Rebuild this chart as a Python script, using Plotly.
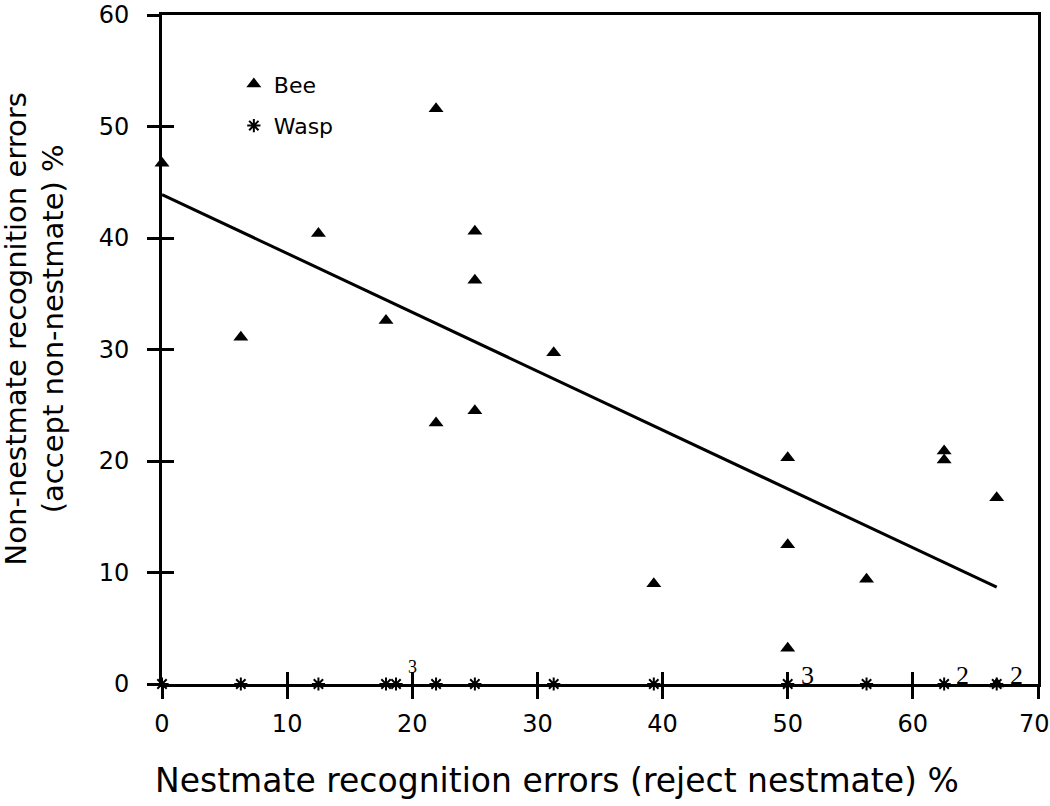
import plotly.graph_objects as go

# ---- data ----
bee_x = [0, 6.3, 12.5, 17.9, 21.9, 21.9, 25.0, 25.0, 25.0, 31.3, 39.3,
         50.0, 50.0, 50.0, 56.3, 62.5, 62.5, 66.7, 66.7]
bee_y = [46.7, 31.1, 40.4, 32.6, 51.6, 23.4, 40.6, 36.2, 24.5, 29.7, 9.0,
         20.3, 12.5, 3.2, 9.4, 20.9, 20.1, 16.7, 0]

wasp_x = [0, 6.3, 12.5, 17.9, 18.7, 21.9, 25.0, 31.3, 39.3, 50.0, 56.3, 62.5, 66.7]
wasp_y = [0] * len(wasp_x)

count_text = ["3", "3", "2", "2"]
count_x = [20.0, 51.6, 64.0, 68.3]
count_y = [1.5, 0.8, 0.8, 0.8]
count_size = [18, 26, 26, 26]

fit_intercept = 43.9
fit_slope = -0.528
fit_x = [0, 66.7]
fit_y = [fit_intercept + fit_slope * v for v in fit_x]

x_ticks = [0, 10, 20, 30, 40, 50, 60, 70]
x_ticktext = ["0", "10", "20", "30", "40", "50", "60", "70\u00a0"]
y_ticks = [0, 10, 20, 30, 40, 50, 60]

x_title = "Nestmate recognition errors (reject nestmate) %"
y_title = "Non-nestmate recognition errors<br>(accept non-nestmate) %"

FONT = "DejaVu Sans"

fig = go.Figure()
fig.add_trace(go.Scatter(x=fit_x, y=fit_y, mode="lines",
                         line=dict(color="black", width=3), showlegend=False,
                         cliponaxis=False))
fig.add_trace(go.Scatter(x=bee_x, y=bee_y, mode="markers", name="Bee",
                         legendgroup="b",
                         marker=dict(symbol="triangle-up", size=13, color="black"),
                         cliponaxis=False))
fig.add_trace(go.Scatter(x=wasp_x, y=wasp_y, mode="markers", name="Wasp",
                         legendgroup="w",
                         marker=dict(symbol="asterisk-open", size=11, color="black",
                                     line=dict(color="black", width=2)),
                         cliponaxis=False))

for t, xv, yv, s in zip(count_text, count_x, count_y, count_size):
    fig.add_annotation(x=xv, y=yv, text=t, showarrow=False,
                       font=dict(family="Liberation Serif", size=s, color="black"),
                       xanchor="center", yanchor="middle")

fig.add_annotation(xref="paper", yref="paper", x=0.451, y=0, yshift=-96,
                   text=x_title, showarrow=False, xanchor="center", yanchor="middle",
                   font=dict(family=FONT, size=33, color="black"))
fig.add_annotation(xref="paper", yref="paper", x=0, xshift=-127, y=0.53,
                   text=y_title, showarrow=False, textangle=-90,
                   xanchor="center", yanchor="middle",
                   font=dict(family=FONT, size=29, color="black"))

axis_common = dict(showgrid=False, zeroline=False, linecolor="black", linewidth=3,
                   tickcolor="black", tickwidth=3, ticklen=12, automargin=False)

fig.update_layout(
    width=1050, height=806,
    margin=dict(l=162, r=12, t=15, b=122),
    paper_bgcolor="white", plot_bgcolor="white",
    font=dict(family=FONT, size=24, color="black"),
    legend=dict(x=0.082, y=0.928, xanchor="left", yanchor="top",
                traceorder="grouped", bgcolor="rgba(0,0,0,0)",
                tracegroupgap=10, font=dict(family=FONT, size=22), itemwidth=30),
    xaxis=dict(range=[0, 70], tickvals=x_ticks, ticktext=x_ticktext, ticks="outside",
               showline=True, mirror=True, ticklabelstandoff=4,
               ticklabeloverflow="allow", **axis_common),
    yaxis=dict(range=[0, 60], tickvals=y_ticks, ticks="outside", showline=True,
               mirror=True, ticklabelstandoff=13, ticklabeloverflow="allow",
               **axis_common),
    xaxis2=dict(range=[0, 70], overlaying="x", tickvals=x_ticks, ticks="inside",
                showticklabels=False, showline=False, side="bottom", **axis_common),
    yaxis2=dict(range=[0, 60], overlaying="y", tickvals=y_ticks, ticks="inside",
                showticklabels=False, showline=False, side="left", **axis_common),
)
# invisible helper trace so the overlay tick axes are drawn
fig.add_trace(go.Scatter(x=[0], y=[0], xaxis="x2", yaxis="y2", mode="markers",
                         marker=dict(opacity=0), showlegend=False, hoverinfo="skip"))

fig.write_html("out.html", config={"displayModeBar": False},
               post_script="document.body.style.margin='0';"
                           "document.body.style.overflow='hidden';")
